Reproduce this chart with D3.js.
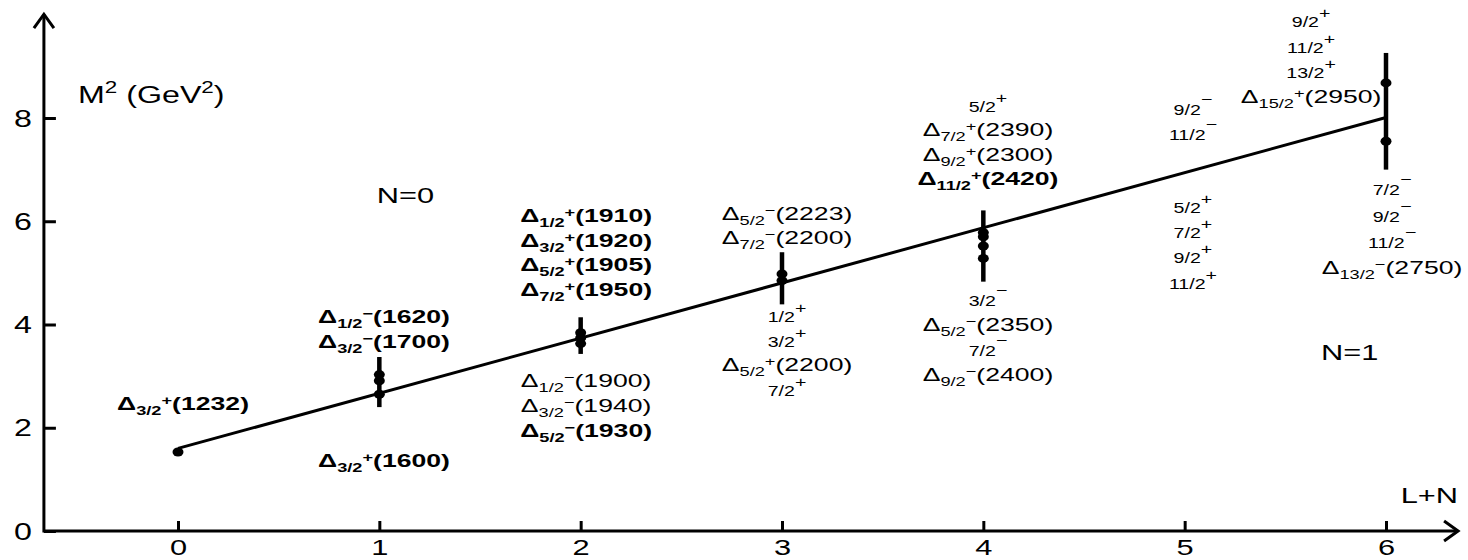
<!DOCTYPE html>
<html>
<head>
<meta charset="utf-8">
<script src="https://cdn.jsdelivr.net/npm/d3@7"></script>
<style>
  html, body { margin: 0; padding: 0; background: #fff; }
  svg { display: block; }
  text { font-family: "Liberation Sans", Arial, sans-serif; fill: #000; }
</style>
</head>
<body>
<svg id="chart" width="1468" height="560"></svg>
<script>
// ---------- data ----------
const xTickVals = [0, 1, 2, 3, 4, 5, 6];
const yTickVals = [0, 2, 4, 6, 8];
const fitX = [0, 6];
const fitY = [1.60, 8.01];
const pointX = [0, 1, 1, 1, 2, 2, 2, 3, 3, 4, 4, 4, 4, 6, 6];
const pointY = [1.53, 2.65, 2.91, 3.03, 3.63, 3.74, 3.84, 4.85, 4.98, 5.28, 5.52, 5.70, 5.78, 7.55, 8.68];
const barX = [1, 2, 3, 4, 6];
const barLow = [2.40, 3.43, 4.39, 4.83, 7.00];
const barHigh = [3.37, 4.14, 5.40, 6.21, 9.26];

// state labels: [x (L+N), y (M^2), type, spin, parity, mass, bold]
const stateLabels = [
  [0.025, 2.344, "D", "3/2", "+", "1232", true],
  [1.023, 4.029, "D", "1/2", "−", "1620", true],
  [1.023, 3.545, "D", "3/2", "−", "1700", true],
  [1.023, 1.240, "D", "3/2", "+", "1600", true],
  [2.027, 5.985, "D", "1/2", "+", "1910", true],
  [2.027, 5.501, "D", "3/2", "+", "1920", true],
  [2.027, 5.036, "D", "5/2", "+", "1905", true],
  [2.027, 4.552, "D", "7/2", "+", "1950", true],
  [2.027, 2.789, "D", "1/2", "−", "1900", false],
  [2.027, 2.305, "D", "3/2", "−", "1940", false],
  [2.027, 1.821, "D", "5/2", "−", "1930", true],
  [3.025, 6.024, "D", "5/2", "−", "2223", false],
  [3.025, 5.559, "D", "7/2", "−", "2200", false],
  [3.025, 4.048, "s", "1/2", "+", "", false],
  [3.025, 3.564, "s", "3/2", "+", "", false],
  [3.025, 3.099, "D", "5/2", "+", "2200", false],
  [3.025, 2.615, "s", "7/2", "+", "", false],
  [4.023, 8.116, "s", "5/2", "+", "", false],
  [4.023, 7.651, "D", "7/2", "+", "2390", false],
  [4.023, 7.167, "D", "9/2", "+", "2300", false],
  [4.023, 6.702, "D", "11/2", "+", "2420", true],
  [4.023, 4.358, "s", "3/2", "−", "", false],
  [4.023, 3.874, "D", "5/2", "−", "2350", false],
  [4.023, 3.390, "s", "7/2", "−", "", false],
  [4.023, 2.906, "D", "9/2", "−", "2400", false],
  [5.041, 8.058, "s", "9/2", "−", "", false],
  [5.041, 7.574, "s", "11/2", "−", "", false],
  [5.041, 6.160, "s", "5/2", "+", "", false],
  [5.041, 5.676, "s", "7/2", "+", "", false],
  [5.041, 5.191, "s", "9/2", "+", "", false],
  [5.041, 4.688, "s", "11/2", "+", "", false],
  [5.628, 9.763, "s", "9/2", "+", "", false],
  [5.628, 9.259, "s", "11/2", "+", "", false],
  [5.628, 8.775, "s", "13/2", "+", "", false],
  [5.628, 8.291, "D", "15/2", "+", "2950", false],
  [6.030, 6.508, "s", "7/2", "−", "", false],
  [6.030, 5.985, "s", "9/2", "−", "", false],
  [6.030, 5.482, "s", "11/2", "−", "", false],
  [6.030, 4.978, "D", "13/2", "−", "2750", false]
];

// ---------- layout ----------
const SX = 1.4; // horizontal text stretch of the original figure
const svg = d3.select("#chart");
const x = d3.scaleLinear().domain([0, 6]).range([178, 1386]);
const y = d3.scaleLinear().domain([0, 8]).range([531, 118]);
const xAxisStart = -0.666, xAxisEnd = 6.358, yAxisEnd = 10.01;

const ax = x(xAxisStart);
// axis lines
svg.append("line").attr("x1", ax).attr("x2", x(xAxisEnd)).attr("y1", y(0)).attr("y2", y(0))
  .attr("stroke", "#000").attr("stroke-width", 3);
svg.append("line").attr("x1", ax).attr("x2", ax).attr("y1", y(0) + 1.5).attr("y2", y(yAxisEnd))
  .attr("stroke", "#000").attr("stroke-width", 3);
// arrow heads
svg.append("path")
  .attr("d", `M${ax - 10},${y(yAxisEnd) + 14}L${ax},${y(yAxisEnd)}L${ax + 10},${y(yAxisEnd) + 14}`)
  .attr("fill", "none").attr("stroke", "#000").attr("stroke-width", 3);
svg.append("path")
  .attr("d", `M${x(xAxisEnd) - 14},${y(0) - 10}L${x(xAxisEnd)},${y(0)}L${x(xAxisEnd) - 14},${y(0) + 10}`)
  .attr("fill", "none").attr("stroke", "#000").attr("stroke-width", 3);

// y axis ticks (inward)
const gy = svg.append("g").attr("transform", `translate(${ax},0)`)
  .call(d3.axisLeft(y).tickValues(yTickVals).tickSizeInner(-12).tickSizeOuter(0).tickPadding(12).tickFormat(d3.format("d")));
gy.select(".domain").remove();
gy.selectAll(".tick line").attr("stroke", "#000").attr("stroke-width", 3);
gy.selectAll(".tick text")
  .attr("x", null).attr("dy", null)
  .attr("transform", `translate(-12,8) scale(${SX},1)`)
  .attr("text-anchor", "end")
  .style("font-size", "23px").style("font-family", "Liberation Sans, Arial, sans-serif");

// x axis ticks (inward)
const gx = svg.append("g").attr("transform", `translate(0,${y(0)})`)
  .call(d3.axisBottom(x).tickValues(xTickVals).tickSizeInner(-10).tickSizeOuter(0).tickFormat(d3.format("d")));
gx.select(".domain").remove();
gx.selectAll(".tick line").attr("stroke", "#000").attr("stroke-width", 3);
gx.selectAll(".tick text")
  .attr("y", null).attr("dy", null)
  .attr("transform", `translate(0,23.5) scale(${SX},1)`)
  .attr("text-anchor", "middle")
  .style("font-size", "22px").style("font-family", "Liberation Sans, Arial, sans-serif");

// axis titles
function stretchedText(px, py, anchor) {
  return svg.append("text").attr("transform", `translate(${px},${py}) scale(${SX},1)`).attr("text-anchor", anchor);
}
const yt = stretchedText(78, 103, "start").style("font-size", "23px");
yt.append("tspan").text("M");
yt.append("tspan").text("2").attr("font-size", 16).attr("dy", -10);
yt.append("tspan").text(" (GeV").attr("dy", 10);
yt.append("tspan").text("2").attr("font-size", 16).attr("dy", -10);
yt.append("tspan").text(")").attr("dy", 10);

stretchedText(1458, 503, "end").style("font-size", "22px").text("L+N");
stretchedText(x(1.13), y(6.35), "middle").style("font-size", "22px").text("N=0");
stretchedText(x(5.82), y(3.31), "middle").style("font-size", "22px").text("N=1");

// error bars
svg.append("g").selectAll("line").data(barX).join("line")
  .attr("x1", d => x(d)).attr("x2", d => x(d))
  .attr("y1", (d, i) => y(barLow[i])).attr("y2", (d, i) => y(barHigh[i]))
  .attr("stroke", "#000").attr("stroke-width", 4.5);

// fit line
const lineGen = d3.line().x(d => x(d[0])).y(d => y(d[1]));
svg.append("path").datum(d3.zip(fitX, fitY)).attr("d", lineGen)
  .attr("fill", "none").attr("stroke", "#000").attr("stroke-width", 3);

// points
svg.append("g").selectAll("ellipse").data(pointX).join("ellipse")
  .attr("cx", d => x(d)).attr("cy", (d, i) => y(pointY[i]))
  .attr("rx", 5.5).attr("ry", 4.5).attr("fill", "#000");

// state labels
stateLabels.forEach(([lx, ly, type, spin, parity, mass, bold]) => {
  const t = stretchedText(x(lx), y(ly), "middle")
    .style("font-weight", bold ? "bold" : "normal");
  if (type === "D") {
    t.append("tspan").text("Δ").attr("font-size", 19);
    t.append("tspan").text(spin).attr("font-size", 13).attr("dy", 5);
    t.append("tspan").text(parity).attr("font-size", 13).attr("dy", -10);
    t.append("tspan").text("(" + mass + ")").attr("font-size", 19).attr("dy", 5);
  } else {
    t.append("tspan").text(spin).attr("font-size", 14);
    t.append("tspan").text(parity).attr("font-size", 14).attr("dy", parity === "+" ? -9 : -11);
  }
});
</script>
</body>
</html>
